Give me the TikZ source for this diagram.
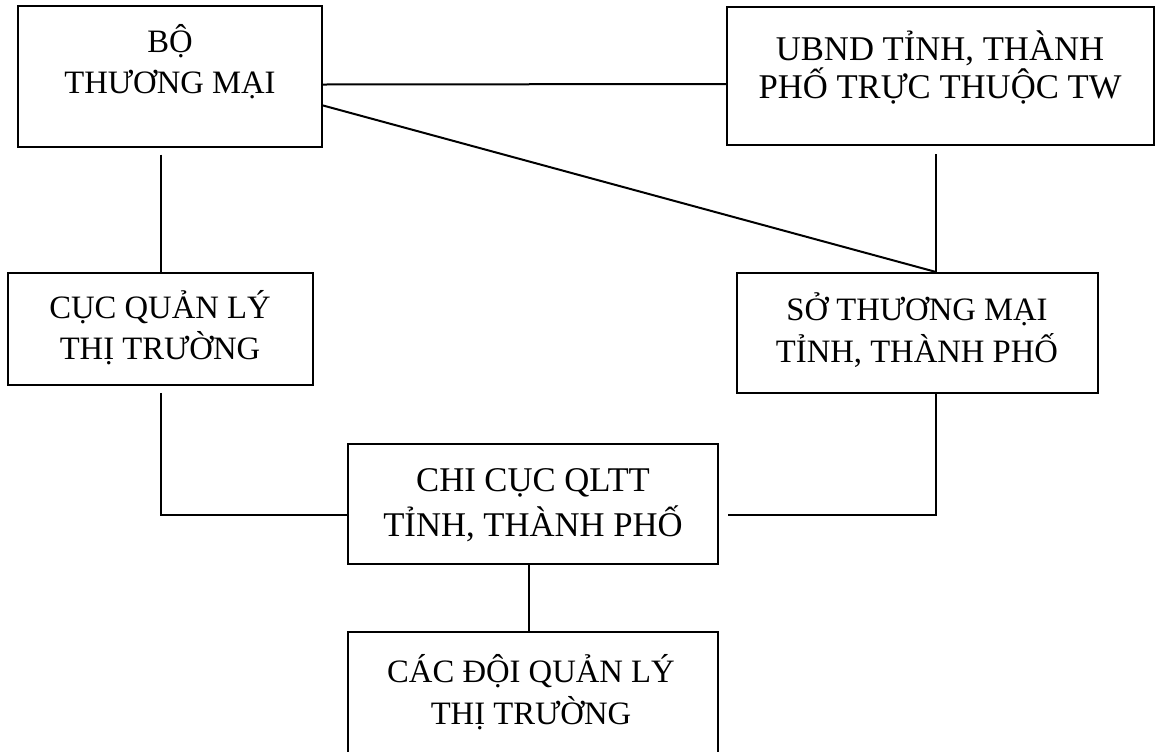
\documentclass[tikz,border=0pt]{standalone}
\usepackage{fontspec}
\setmainfont{Liberation Serif}
\usetikzlibrary{calc}
\tikzset{
    %Define style for boxes
    unit/.style={
           rectangle,
           draw=black,
           line width=1.5pt,
           inner sep=0pt},
    %Define style for box texts
    caption/.style={
           align=center,
           font=\fontsize{24.5}{31}\selectfont},
    bigcaption/.style={
           align=center,
           font=\fontsize{26}{28.5}\selectfont},
    % Define line style
    link/.style={
           line width=1.5pt}
}
\begin{document}
\begin{tikzpicture}[x=0.75pt,y=-0.75pt]
\useasboundingbox (0,0) rectangle (1155,751);
\clip (0,0) rectangle (1155,751);

 %boxes

\node[unit, minimum width=228.4pt, minimum height=105.8pt] (bo) at (170,76.5) {};
\node[unit, minimum width=320.2pt, minimum height=103.5pt] (ubnd) at (940.5,76) {};
\node[unit, minimum width=228.8pt, minimum height=84.4pt] (cuc) at (160.5,329) {};
\node[unit, minimum width=270.8pt, minimum height=90pt] (so) at (917.5,332.7) {};
\node[unit, minimum width=277.5pt, minimum height=90pt] (chicuc) at (533,504) {};
\node[unit, minimum width=277.5pt, minimum height=112.5pt] (doi) at (533,707) {};

 %texts

\node[caption] (bo-t) at (170,62) {BỘ\\THƯƠNG MẠI};
\node[bigcaption] (ubnd-t) at (940,67) {UBND TỈNH, THÀNH\\PHỐ TRỰC THUỘC TW};
\node[caption] (cuc-t) at (160,328) {CỤC QUẢN LÝ\\THỊ TRƯỜNG};
\node[caption] (so-t) at (917,330) {SỞ THƯƠNG MẠI\\TỈNH, THÀNH PHỐ};
\node[caption, font=\fontsize{26}{34}\selectfont] (chicuc-t) at (533,505) {CHI CỤC QLTT\\TỈNH, THÀNH PHỐ};
\node[caption] (doi-t) at (531,692) {CÁC ĐỘI QUẢN LÝ\\THỊ TRƯỜNG};

 %joints
\coordinate (lj) at (160.5,515);
\coordinate (rj) at (936,515);

 %lines
\draw[link] ($(bo.east)+(-2,8)$) -- ($(ubnd.west)+(0,8)$);
\draw[link] ($(bo.east)+(-2,28.5)$) -- ($(so.north)+(17.5,0)$);
\draw[link, shorten <=5pt] (cuc.north |- bo.south) -- (cuc.north);
\draw[link, shorten <=6pt] (ubnd.south -| rj) -- (so.north -| rj);
\draw[link, shorten <=5pt] (cuc.south) -- (lj) -- (chicuc.west |- lj);
\draw[link, shorten >=7pt] (so.south -| rj) -- (rj) -- (chicuc.east |- rj);
\draw[link] ($(chicuc.south)+(-4,0)$) -- ($(doi.north)+(-4,0)$);

\end{tikzpicture}
\end{document}
